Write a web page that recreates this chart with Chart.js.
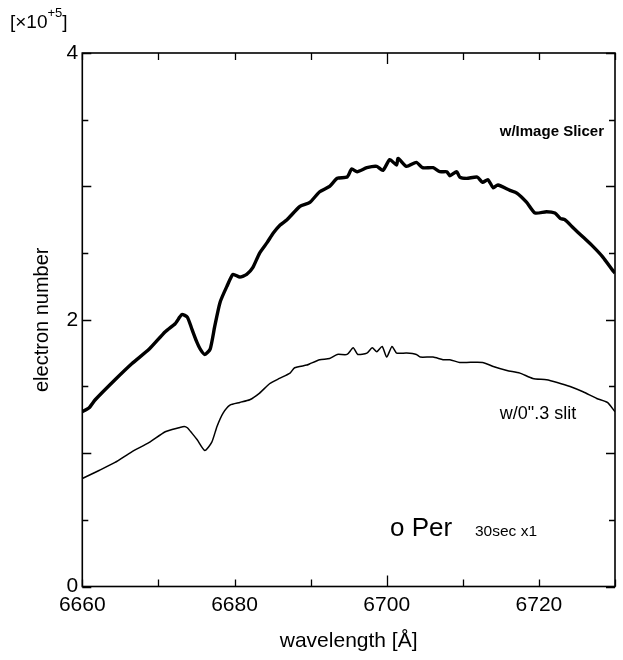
<!DOCTYPE html>
<html>
<head>
<meta charset="utf-8">
<script src="https://cdn.jsdelivr.net/npm/chart.js@4/dist/chart.umd.min.js"></script>
<style>
  html, body { margin: 0; padding: 0; background: #fff; }
  #wrap { width: 623px; height: 660px; }
</style>
</head>
<body>
<div id="wrap"><canvas id="spec" width="623" height="660"></canvas></div>
<script>
'use strict';

// w/Image Slicer (thick line)
const slicerWl = [6660.0, 6660.9, 6661.7, 6664.3, 6666.5, 6668.8, 6670.9, 6672.2, 6672.8, 6673.1,
  6673.8, 6674.4, 6675.0, 6675.5, 6676.1, 6676.8, 6677.4, 6678.1, 6679.0, 6679.8,
  6680.7, 6681.6, 6682.4, 6683.3, 6684.3, 6685.1, 6686.0, 6686.9, 6688.6, 6689.9,
  6691.2, 6692.5, 6693.5, 6694.8, 6695.4, 6696.1, 6697.4, 6698.7, 6699.5, 6700.4,
  6701.3, 6701.5, 6702.6, 6703.9, 6704.7, 6706.1, 6707.0, 6707.9, 6708.3, 6709.2,
  6709.6, 6710.5, 6711.9, 6712.6, 6713.3, 6714.0, 6714.6, 6716.2, 6717.1, 6718.4,
  6719.5, 6721.0, 6722.1, 6722.8, 6723.4, 6724.5, 6725.8, 6727.1, 6728.4, 6729.7, 6730.0];
const slicerVal = [1.31, 1.34, 1.40, 1.55, 1.67, 1.78, 1.91, 1.97, 2.02, 2.04,
  2.02, 1.93, 1.84, 1.78, 1.74, 1.78, 1.95, 2.13, 2.25, 2.34,
  2.32, 2.34, 2.39, 2.50, 2.58, 2.65, 2.71, 2.75, 2.85, 2.88,
  2.96, 3.00, 3.06, 3.07, 3.13, 3.11, 3.14, 3.15, 3.12, 3.20,
  3.16, 3.21, 3.15, 3.18, 3.14, 3.14, 3.11, 3.11, 3.08, 3.11,
  3.07, 3.06, 3.07, 3.03, 3.05, 2.99, 3.01, 2.97, 2.95, 2.88,
  2.80, 2.81, 2.80, 2.76, 2.75, 2.69, 2.62, 2.55, 2.47, 2.37, 2.35];

// w/0".3 slit (thin line)
const slitWl = [6660.0, 6662.2, 6664.3, 6666.5, 6668.8, 6670.9, 6672.7, 6673.4, 6673.8, 6674.4,
  6675.1, 6676.1, 6677.0, 6677.7, 6678.5, 6679.4, 6680.7, 6682.0, 6683.3, 6684.6,
  6685.9, 6687.3, 6687.9, 6689.5, 6689.9, 6691.2, 6692.5, 6693.5, 6694.8, 6695.6,
  6696.2, 6697.4, 6698.1, 6698.7, 6699.4, 6700.0, 6700.7, 6701.3, 6702.6, 6703.9,
  6704.4, 6706.1, 6707.4, 6708.3, 6709.6, 6710.5, 6712.6, 6714.0, 6715.8, 6717.5,
  6719.2, 6721.0, 6722.4, 6724.1, 6725.8, 6727.6, 6729.0, 6730.0];
const slitVal = [0.81, 0.87, 0.93, 1.01, 1.08, 1.16, 1.19, 1.20, 1.19, 1.15,
  1.10, 1.02, 1.08, 1.20, 1.30, 1.36, 1.38, 1.40, 1.45, 1.52,
  1.56, 1.60, 1.64, 1.66, 1.67, 1.70, 1.71, 1.74, 1.74, 1.79,
  1.74, 1.75, 1.79, 1.76, 1.80, 1.72, 1.80, 1.75, 1.75, 1.74,
  1.72, 1.72, 1.70, 1.70, 1.68, 1.68, 1.68, 1.65, 1.62, 1.60,
  1.56, 1.55, 1.53, 1.50, 1.46, 1.41, 1.38, 1.31];

const xLabels = [6660, 6680, 6700, 6720];
const yLabels = [0, 2, 4];

const FONT = '"Liberation Sans", Arial, sans-serif';

const pts = (xs, ys) => xs.map((x, i) => ({ x, y: ys[i] }));

const frameTicks = {
  id: 'frameTicks',
  afterDraw(chart) {
    const { ctx, chartArea: a, scales: { x, y } } = chart;
    ctx.save();
    ctx.strokeStyle = '#000';
    ctx.lineWidth = 1.3;
    ctx.beginPath();
    for (let w = 6660; w <= 6730; w += 10) {
      const px = Math.round(x.getPixelForValue(w)) + 0.5;
      const len = w === 6700 ? 11 : 7;
      ctx.moveTo(px, a.bottom); ctx.lineTo(px, a.bottom - len);
      ctx.moveTo(px, a.top);    ctx.lineTo(px, a.top + len);
    }
    for (let v = 0; v <= 4; v += 0.5) {
      const py = Math.round(y.getPixelForValue(v)) + 0.5;
      const len = Number.isInteger(v) ? 9 : 6;
      ctx.moveTo(a.left, py);  ctx.lineTo(a.left + len, py);
      ctx.moveTo(a.right, py); ctx.lineTo(a.right - len, py);
    }
    ctx.stroke();
    ctx.lineWidth = 1.6;
    ctx.strokeRect(a.left, a.top, a.right - a.left, a.bottom - a.top);

    // labels
    ctx.fillStyle = '#000';
    ctx.textBaseline = 'alphabetic';
    ctx.font = 'bold 15px ' + FONT;
    ctx.textAlign = 'right';
    ctx.fillText('w/Image Slicer', 604, 136);
    ctx.font = '18px ' + FONT;
    ctx.textAlign = 'center';
    ctx.fillText('w/0".3 slit', 538, 419);
    ctx.textAlign = 'left';
    ctx.font = '26px ' + FONT;
    ctx.fillText('o Per', 390, 536);
    ctx.font = '15.5px ' + FONT;
    ctx.fillText('30sec x1', 475, 536);

    // exponent label
    ctx.font = '19px ' + FONT;
    ctx.fillText('[\u00d710', 10, 28);
    const w1 = ctx.measureText('[\u00d710').width;
    ctx.font = '13px ' + FONT;
    ctx.fillText('+5', 10 + w1, 17);
    const w2 = ctx.measureText('+5').width;
    ctx.font = '19px ' + FONT;
    ctx.fillText(']', 10 + w1 + w2, 28);
    ctx.restore();
  }
};

new Chart(document.getElementById('spec'), {
  type: 'line',
  data: {
    datasets: [{
      label: 'w/Image Slicer',
      data: pts(slicerWl, slicerVal),
      borderColor: '#000',
      borderWidth: 3.4,
      pointRadius: 0,
      tension: 0.2,
    }, {
      label: 'w/0".3 slit',
      data: pts(slitWl, slitVal),
      borderColor: '#000',
      borderWidth: 1.5,
      pointRadius: 0,
      tension: 0.2,
    }]
  },
  options: {
    responsive: false,
    animation: false,
    layout: { padding: { top: 53, right: 8, left: 0, bottom: 0 } },
    plugins: { legend: { display: false }, tooltip: { enabled: false } },
    scales: {
      x: {
        type: 'linear',
        min: 6660, max: 6730,
        afterFit: s => { s.height = 73.5; },
        grid: { display: false, drawTicks: false },
        border: { display: false },
        ticks: {
          stepSize: 10,
          padding: 6,
          color: '#000',
          font: { family: FONT, size: 21 },
          maxRotation: 0,
          autoSkip: false,
          callback: v => xLabels.includes(v) ? String(v) : ''
        },
        title: {
          display: true,
          text: 'wavelength [\u00c5]',
          color: '#000',
          font: { family: FONT, size: 21 },
          padding: { top: 0, bottom: 6 }
        }
      },
      y: {
        min: 0, max: 4,
        afterFit: s => { s.width = 82.3; },
        grid: { display: false, drawTicks: false },
        border: { display: false },
        ticks: {
          stepSize: 0.5,
          padding: 4,
          color: '#000',
          font: { family: FONT, size: 21 },
          autoSkip: false,
          callback: v => yLabels.includes(v) ? String(v) : ''
        },
        title: {
          display: true,
          text: 'electron number',
          color: '#000',
          font: { family: FONT, size: 20 },
          padding: { top: 30, bottom: 0 }
        }
      }
    }
  },
  plugins: [frameTicks]
});
</script>
</body>
</html>
